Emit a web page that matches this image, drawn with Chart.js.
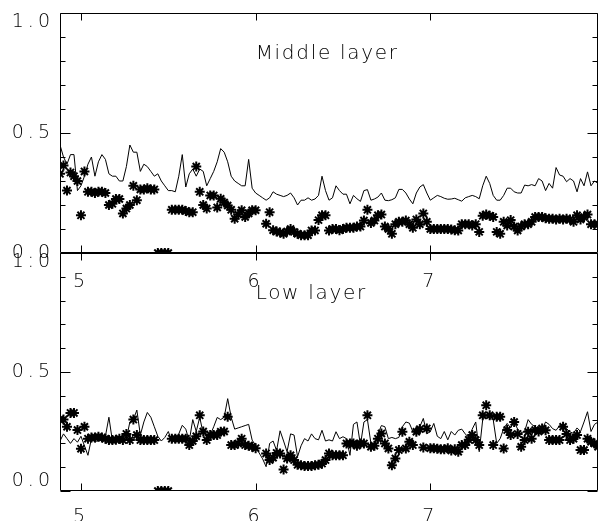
<!DOCTYPE html>
<html>
<head>
<meta charset="utf-8">
<title>Middle layer / Low layer</title>
<script src="https://cdn.jsdelivr.net/npm/chart.js@4"></script>
<style>
  html, body { margin: 0; padding: 0; background: #fff; }
  #wrap { position: relative; width: 605px; height: 527px; }
  #wrap canvas { position: absolute; left: 0; top: 0; }
</style>
</head>
<body>
<div id="wrap">
  <canvas id="lowChart" width="605" height="527"></canvas>
  <canvas id="midChart" width="605" height="527"></canvas>
</div>
<script>
// x positions of the samples (shared by both panels)
const xDays = [
  4.88, 4.90, 4.92, 4.94, 4.96, 4.98, 5.00, 5.02, 5.04, 5.06,
  5.08, 5.10, 5.12, 5.14, 5.16, 5.18, 5.20, 5.22, 5.24, 5.26,
  5.28, 5.30, 5.32, 5.34, 5.36, 5.38, 5.40, 5.42, 5.44, 5.46,
  5.48, 5.50, 5.52, 5.54, 5.56, 5.58, 5.60, 5.62, 5.64, 5.66,
  5.68, 5.70, 5.72, 5.74, 5.76, 5.78, 5.80, 5.82, 5.84, 5.86,
  5.88, 5.90, 5.92, 5.94, 5.96, 5.98, 6.00, 6.02, 6.04, 6.06,
  6.08, 6.10, 6.12, 6.14, 6.16, 6.18, 6.20, 6.22, 6.24, 6.26,
  6.28, 6.30, 6.32, 6.34, 6.36, 6.38, 6.40, 6.42, 6.44, 6.46,
  6.48, 6.50, 6.52, 6.54, 6.56, 6.58, 6.60, 6.62, 6.64, 6.66,
  6.68, 6.70, 6.72, 6.74, 6.76, 6.78, 6.80, 6.82, 6.84, 6.86,
  6.88, 6.90, 6.92, 6.94, 6.96, 6.98, 7.00, 7.02, 7.04, 7.06,
  7.08, 7.10, 7.12, 7.14, 7.16, 7.18, 7.20, 7.22, 7.24, 7.26,
  7.28, 7.30, 7.32, 7.34, 7.36, 7.38, 7.40, 7.42, 7.44, 7.46,
  7.48, 7.50, 7.52, 7.54, 7.56, 7.58, 7.60, 7.62, 7.64, 7.66,
  7.68, 7.70, 7.72, 7.74, 7.76, 7.78, 7.80, 7.82, 7.84, 7.86,
  7.88, 7.90, 7.92, 7.94, 7.96
];

// Middle layer: solid line and asterisks
const midLine = [
  0.45, 0.40, 0.37, 0.41, 0.41, 0.26, 0.28, 0.32, 0.37, 0.40,
  0.32, 0.38, 0.41, 0.39, 0.33, 0.32, 0.32, 0.30, 0.30, 0.36,
  0.45, 0.42, 0.42, 0.34, 0.37, 0.36, 0.34, 0.32, 0.33, 0.30,
  0.28, 0.26, 0.26, 0.255, 0.32, 0.41, 0.275, 0.33, 0.35, 0.32,
  0.35, 0.34, 0.28, 0.31, 0.34, 0.38, 0.435, 0.42, 0.38, 0.32,
  0.30, 0.29, 0.28, 0.28, 0.39, 0.27, 0.25, 0.24, 0.23, 0.22,
  0.23, 0.255, 0.245, 0.24, 0.235, 0.24, 0.25, 0.23, 0.20, 0.22,
  0.22, 0.23, 0.22, 0.225, 0.24, 0.32, 0.26, 0.22, 0.23, 0.28,
  0.26, 0.245, 0.245, 0.205, 0.24, 0.226, 0.215, 0.26, 0.264, 0.22,
  0.225, 0.233, 0.25, 0.22, 0.218, 0.222, 0.23, 0.265, 0.265, 0.25,
  0.225, 0.205, 0.25, 0.275, 0.285, 0.25, 0.22, 0.23, 0.24, 0.235,
  0.228, 0.224, 0.225, 0.228, 0.222, 0.216, 0.23, 0.235, 0.24, 0.235,
  0.226, 0.28, 0.32, 0.29, 0.24, 0.22, 0.22, 0.24, 0.27, 0.27,
  0.255, 0.25, 0.25, 0.283, 0.28, 0.285, 0.28, 0.31, 0.30, 0.26,
  0.29, 0.27, 0.356, 0.325, 0.32, 0.297, 0.31, 0.30, 0.255, 0.31,
  0.28, 0.338, 0.28, 0.30, 0.29
];
const midStars = [
  0.33, 0.365, 0.26, 0.335, 0.32, 0.30, 0.157, 0.34, 0.255, 0.255,
  0.25, 0.255, 0.255, 0.25, 0.20, 0.205, 0.225, 0.225, 0.165, 0.185,
  0.20, 0.28, 0.22, 0.265, 0.265, 0.27, 0.265, 0.265, 0.0, 0.0,
  0.0, 0.0, 0.18, 0.18, 0.18, 0.18, 0.175, 0.17, 0.17, 0.36,
  0.255, 0.20, 0.185, 0.24, 0.24, 0.19, 0.226, 0.21, 0.198, 0.18,
  0.143, 0.16, 0.178, 0.15, 0.165, 0.178, 0.178, null, null, 0.122,
  0.17, 0.095, 0.09, 0.085, 0.08, 0.09, 0.10, 0.088, 0.08, 0.074,
  0.074, 0.074, 0.094, 0.094, 0.137, 0.157, 0.157, 0.094, 0.10, 0.10,
  0.095, 0.10, 0.105, 0.105, 0.105, 0.11, 0.11, 0.135, 0.18, 0.125,
  0.135, 0.157, 0.16, 0.11, 0.10, 0.08, 0.12, 0.13, 0.13, 0.135,
  0.12, 0.105, 0.14, 0.12, 0.165, 0.13, 0.10, 0.10, 0.10, 0.10,
  0.10, 0.10, 0.098, 0.095, 0.094, 0.12, 0.12, 0.12, 0.115, 0.12,
  0.088, 0.155, 0.16, 0.155, 0.15, 0.088, 0.08, 0.13, 0.115, 0.137,
  0.11, 0.094, 0.11, 0.12, 0.12, 0.13, 0.15, 0.15, 0.15, 0.145,
  0.143, 0.143, 0.14, 0.143, 0.14, 0.143, 0.14, 0.13, 0.157, 0.14,
  0.15, 0.16, 0.12, 0.12, 0.12
];

// Low layer: solid line and asterisks
const lowLine = [
  0.21, 0.24, 0.22, 0.20, 0.22, 0.205, 0.23, 0.19, 0.15, 0.22,
  0.205, 0.215, 0.21, 0.23, 0.31, 0.21, 0.215, 0.21, 0.205, 0.22,
  0.29, 0.30, 0.34, 0.235, 0.29, 0.33, 0.31, 0.27, 0.23, 0.21,
  0.225, 0.25, 0.21, 0.225, 0.24, 0.276, 0.26, 0.21, 0.30, 0.25,
  0.31, 0.24, 0.228, 0.235, 0.27, 0.309, 0.30, 0.31, 0.388, 0.31,
  0.26, 0.265, 0.27, 0.275, 0.28, 0.214, 0.19, 0.16, 0.135, 0.102,
  0.20, 0.21, 0.17, 0.253, 0.21, 0.165, 0.24, 0.235, 0.144, 0.19,
  0.22, 0.21, 0.24, 0.22, 0.215, 0.255, 0.21, 0.215, 0.21, 0.249,
  0.22, 0.228, 0.22, 0.15, 0.28, 0.29, 0.193, 0.29, 0.30, 0.20,
  0.186, 0.24, 0.275, 0.27, 0.22, 0.225, 0.22, 0.225, 0.27, 0.29,
  0.285, 0.25, 0.265, 0.27, 0.305, 0.24, 0.25, 0.284, 0.23, 0.22,
  0.25, 0.215, 0.25, 0.235, 0.255, 0.26, 0.24, 0.225, 0.26, 0.29,
  0.165, 0.30, 0.315, 0.305, 0.30, 0.20, 0.22, 0.262, 0.284, 0.265,
  0.29, 0.26, 0.245, 0.25, 0.30, 0.28, 0.27, 0.26, 0.26, 0.29,
  0.28, 0.262, 0.255, 0.275, 0.28, 0.262, 0.248, 0.242, 0.265, 0.25,
  0.29, 0.333, 0.25, 0.28, 0.29
];
const lowStars = [
  0.30, 0.30, 0.27, 0.328, 0.328, 0.256, 0.178, 0.27, 0.22, 0.225,
  0.225, 0.228, 0.225, 0.22, 0.214, 0.214, 0.215, 0.22, 0.214, 0.24,
  0.214, 0.30, 0.235, 0.214, 0.214, 0.214, 0.214, 0.214, 0.0, 0.0,
  0.0, 0.0, 0.22, 0.22, 0.22, 0.22, 0.22, 0.193, 0.21, 0.23,
  0.318, 0.25, 0.214, 0.235, 0.235, 0.235, 0.249, 0.25, 0.312, 0.193,
  0.193, 0.20, 0.22, 0.193, 0.19, 0.186, 0.18, null, null, 0.158,
  0.13, 0.14, 0.16, 0.158, 0.09, 0.137, 0.15, 0.13, 0.11, 0.108,
  0.105, 0.105, 0.105, 0.108, 0.11, 0.115, 0.13, 0.158, 0.15, 0.15,
  0.15, 0.15, 0.20, 0.20, 0.20, 0.19, 0.20, 0.20, 0.318, 0.186,
  0.19, 0.22, 0.242, 0.20, 0.179, 0.108, 0.137, 0.172, 0.249, 0.179,
  0.207, 0.193, 0.249, 0.26, 0.183, 0.263, 0.18, 0.18, 0.178, 0.175,
  0.175, 0.18, 0.17, 0.175, 0.165, 0.193, 0.193, 0.215, 0.235, 0.214,
  0.193, 0.318, 0.36, 0.318, 0.193, 0.312, 0.312, 0.179, 0.256, 0.235,
  0.29, 0.24, 0.186, 0.214, 0.249, 0.22, 0.256, 0.25, 0.263, 0.255,
  0.214, 0.214, 0.214, 0.214, 0.27, 0.24, 0.214, 0.22, 0.235, 0.172,
  0.172, 0.22, 0.207, 0.2, 0.186
];

const xTicks = [5, 6, 7];
const yLabels = [0, 0.5, 1];
const yMinor = [0, 0.1, 0.2, 0.3, 0.4, 0.5, 0.6, 0.7, 0.8, 0.9, 1];

const FONT = '"DejaVu Sans ExtraLight", "DejaVu Sans"';

// box, inward tick marks and the panel caption
const framePlugin = {
  id: 'frame',
  beforeDraw(chart) {
    chart.ctx.letterSpacing = '4px';
  },
  afterDraw(chart, args, opts) {
    const ctx = chart.ctx;
    const a = chart.chartArea;
    const x = chart.scales.x, y = chart.scales.y;
    const L = Math.round(a.left) + 0.5, R = Math.round(a.right) - 0.5;
    const T = Math.round(a.top) + 0.5, B = Math.round(a.bottom) - 0.5;

    ctx.save();
    ctx.letterSpacing = '0px';
    ctx.strokeStyle = '#000';
    ctx.lineWidth = 1;
    ctx.beginPath();
    ctx.rect(L, T, R - L, B - T);
    xTicks.forEach(v => {
      const px = Math.round(x.getPixelForValue(v)) + 0.5;
      ctx.moveTo(px, T); ctx.lineTo(px, T + 7);
      ctx.moveTo(px, B); ctx.lineTo(px, B - 7);
    });
    yMinor.forEach(v => {
      const len = yLabels.includes(v) ? 10 : 5;
      const py = Math.round(y.getPixelForValue(v)) + 0.5;
      ctx.moveTo(L, py); ctx.lineTo(L + len, py);
      ctx.moveTo(R, py); ctx.lineTo(R - len, py);
    });
    ctx.stroke();

    ctx.font = '200 20px ' + FONT;
    ctx.letterSpacing = '1.7px';
    ctx.fillStyle = '#000';
    ctx.textAlign = 'left';
    ctx.textBaseline = 'middle';
    ctx.fillText(opts.text, x.getPixelForValue(6.0), y.getPixelForValue(0.83));
    ctx.restore();
  }
};

function toPoints(ys) {
  return xDays.map((x, i) => ({ x: x, y: ys[i] }));
}

function makePanel(id, lineData, starData, title, pad, axisHeight, xGap, yLabel) {
  const canvas = document.getElementById(id);
  if (!canvas || typeof Chart === 'undefined') {
    console.warn('Panel ' + id + ' not drawn');
    return;
  }
  const tickFont = { family: FONT, size: 19, weight: '200', lineHeight: 1.0 };

  new Chart(canvas, {
    type: 'line',
    data: {
      datasets: [
        {
          data: toPoints(lineData),
          borderColor: '#000',
          borderWidth: 1,
          pointRadius: 0,
          tension: 0
        },
        {
          data: toPoints(starData),
          showLine: false,
          pointStyle: 'star',
          pointRadius: 5,
          pointBorderWidth: 2,
          pointBorderColor: '#000',
          pointBackgroundColor: '#000'
        }
      ]
    },
    options: {
      responsive: false,
      animation: false,
      events: [],
      layout: { padding: pad },
      plugins: {
        legend: { display: false },
        tooltip: { enabled: false },
        frame: { text: title }
      },
      scales: {
        x: {
          type: 'linear',
          min: 4.88,
          max: 7.96,
          grid: { display: false, drawTicks: false },
          border: { display: false },
          afterBuildTicks: s => { s.ticks = xTicks.map(v => ({ value: v })); },
          afterFit: s => { s.height = axisHeight; s.paddingLeft = 0; s.paddingRight = 0; },
          ticks: { padding: xGap, color: '#000', font: tickFont, callback: v => String(v) }
        },
        y: {
          min: 0,
          max: 1,
          grid: { display: false, drawTicks: false },
          border: { display: false },
          afterBuildTicks: s => { s.ticks = yLabels.map(v => ({ value: v })); },
          afterFit: s => { s.width = 60; s.paddingTop = 0; s.paddingBottom = 0; },
          ticks: { padding: 6, color: '#000', font: tickFont, callback: yLabel }
        }
      }
    },
    plugins: [framePlugin]
  });
}

document.addEventListener('DOMContentLoaded', function() {
  makePanel('midChart', midLine, midStars, 'Middle layer',
    { left: 0, top: 13, right: 2, bottom: 234 }, 40, 20,
    v => v === 1 ? ['', '1.0'] : v.toFixed(1));
  makePanel('lowChart', lowLine, lowStars, 'Low layer',
    { left: 0, top: 253, right: 2, bottom: 6 }, 30, 17,
    v => v === 1 ? ['', '1.0'] : (v === 0 ? ['0.0', ''] : v.toFixed(1)));
});
</script>
</body>
</html>
